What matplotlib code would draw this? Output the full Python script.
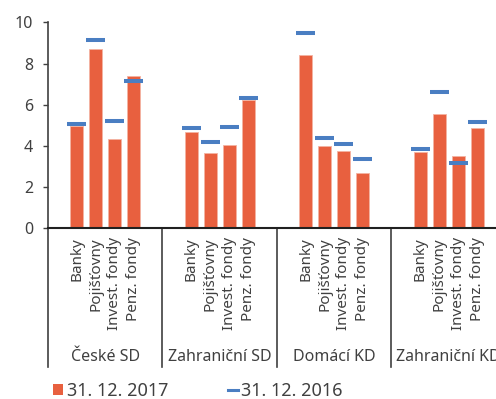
import matplotlib
matplotlib.use("Agg")
import matplotlib.pyplot as plt
import matplotlib.transforms as mtransforms
from matplotlib.patches import Patch
from matplotlib.lines import Line2D

plt.rcParams['font.family'] = ['Noto Sans', 'DejaVu Sans']

groups = ['České SD', 'Zahraniční SD', 'Domácí KD', 'Zahraniční KD']
sectors = ['Banky', 'Pojišťovny', 'Invest. fondy', 'Penz. fondy']

# values per group, in sector order
val_2017 = [
    [4.97, 8.70, 4.32, 7.41],
    [4.69, 3.66, 4.04, 6.21],
    [8.40, 4.01, 3.77, 2.70],
    [3.69, 5.56, 3.52, 4.88],
]
val_2016 = [
    [5.06, 9.14, 5.21, 7.15],
    [4.87, 4.19, 4.92, 6.33],
    [9.48, 4.38, 4.09, 3.36],
    [3.85, 6.62, 3.17, 5.16],
]
legend_labels = ['31. 12. 2017', '31. 12. 2016']

bar_color = '#E8603F'
dash_color = '#4A7EC2'
axis_color = '#404040'

fig = plt.figure(figsize=(4.96, 3.99), dpi=100)
ax = fig.add_axes([48 / 496, 170.7 / 399, 458 / 496, 206 / 399])

# each group takes 6 slots: empty, 4 sectors, empty
slots = 6
xs, y17, y16, labels = [], [], [], []
for g in range(len(groups)):
    for c, name in enumerate(sectors):
        xs.append(g * slots + 1.5 + c)
        y17.append(val_2017[g][c])
        y16.append(val_2016[g][c])
        labels.append(name)

ax.bar(xs, y17, width=0.67, color=bar_color, edgecolor='#F4B3A2', linewidth=0.6, zorder=2)
ax.hlines(y16, [x - 0.5 for x in xs], [x + 0.5 for x in xs], color=dash_color,
          linewidth=2.9, capstyle='butt', zorder=3)

ax.set_xlim(0, slots * len(groups))
ax.set_ylim(0, 10)
ax.set_yticks(range(0, 11, 2))
ax.tick_params(axis='y', direction='out', length=3.6, width=1, color=axis_color,
               labelsize=11.5, labelcolor=axis_color, pad=7)
ax.set_xticks(xs)
ax.set_xticklabels(labels, rotation=90, fontsize=11, color=axis_color)
ax.tick_params(axis='x', length=0, pad=6.5)

for side in ['top', 'right']:
    ax.spines[side].set_visible(False)
ax.spines['left'].set_color(axis_color)
ax.spines['left'].set_linewidth(1.2)
ax.spines['bottom'].set_color('#202020')
ax.spines['bottom'].set_linewidth(1.5)

# group separators and group names below the axis
trans = mtransforms.blended_transform_factory(ax.transData, ax.transAxes)
for g in range(len(groups) + 1):
    ax.plot([g * slots, g * slots], [0, -0.672], transform=trans, color=axis_color,
            linewidth=1.2, clip_on=False)
for g, name in enumerate(groups):
    ax.text(g * slots + slots / 2, -0.623, name, transform=trans, ha='center', va='center',
            fontsize=11.5, color=axis_color)

handles = [Patch(facecolor=bar_color, edgecolor='none'),
           Line2D([], [], color=dash_color, linewidth=2.2)]
fig.legend(handles, legend_labels, loc='center left', bbox_to_anchor=(0.107, 0.021),
           ncol=2, frameon=False, fontsize=13, handlelength=0.55, handleheight=0.6,
           handletextpad=0.2, columnspacing=3.3, borderpad=0, borderaxespad=0,
           labelcolor=axis_color)

fig.savefig('out.png', dpi=100)
